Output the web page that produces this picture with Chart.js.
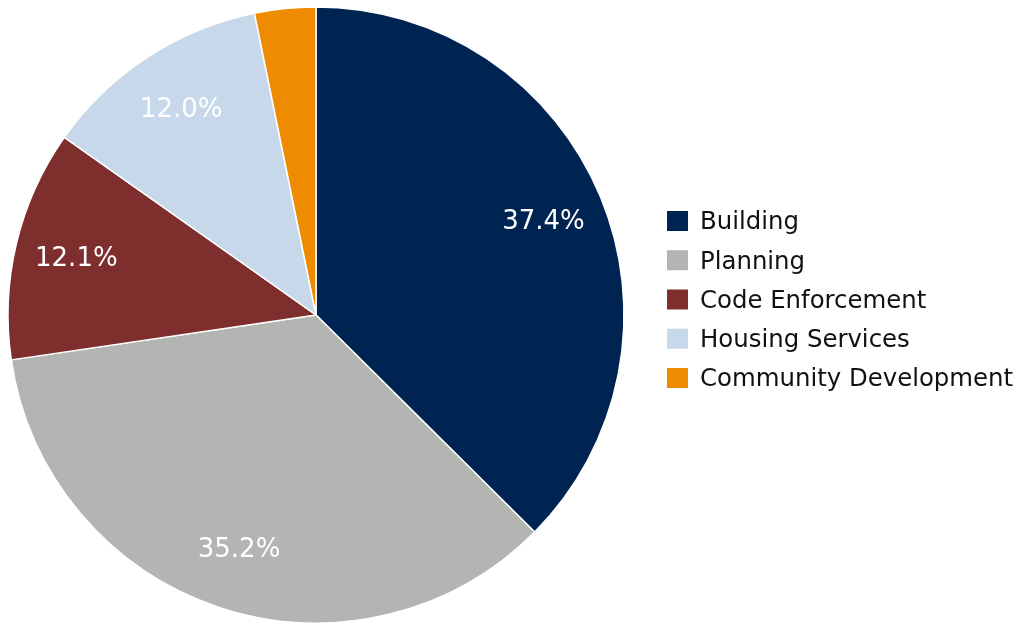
<!DOCTYPE html>
<html>
<head>
<meta charset="utf-8">
<script src="https://cdn.jsdelivr.net/npm/chart.js@4.4.1/dist/chart.umd.min.js"></script>
<style>
  html, body { margin: 0; padding: 0; background: #ffffff; }
  #wrap { width: 1023px; height: 623px; position: relative; }
</style>
</head>
<body>
<div id="wrap"><canvas id="c" width="1023" height="623"></canvas></div>
<script>
const categories = ["Building", "Planning", "Code Enforcement", "Housing Services", "Community Development"];
const shares = [37.4, 35.2, 12.1, 12.0, 3.2];
const sliceColors = ["#002452", "#b3b5b2", "#7e2e2d", "#c7d8ea", "#ee8b00"];

const FONT = '"DejaVu Sans", "Liberation Sans", sans-serif';

const pctLabels = {
  id: 'pctLabels',
  afterDatasetsDraw(chart) {
    const ctx = chart.ctx;
    const meta = chart.getDatasetMeta(0);
    const data = chart.data.datasets[0].data;
    const total = data.reduce((a, b) => a + b, 0);
    ctx.save();
    ctx.font = '26px ' + FONT;
    ctx.fillStyle = '#ffffff';
    ctx.textAlign = 'center';
    ctx.textBaseline = 'middle';
    meta.data.forEach((arc, i) => {
      const pct = data[i] / total * 100;
      if (pct < 5) return;
      const p = arc.getProps(['x', 'y', 'startAngle', 'endAngle', 'outerRadius'], true);
      const mid = (p.startAngle + p.endAngle) / 2;
      const r = p.outerRadius * 0.8;
      ctx.fillText(pct.toFixed(1) + '%', p.x + Math.cos(mid) * r, p.y + Math.sin(mid) * r + 1.5);
    });
    ctx.restore();
  }
};

const sideLegend = {
  id: 'sideLegend',
  afterDraw(chart) {
    const ctx = chart.ctx;
    const labels = chart.data.labels;
    const colors = chart.data.datasets[0].backgroundColor;
    ctx.save();
    ctx.font = '24.4px ' + FONT;
    ctx.textAlign = 'left';
    ctx.textBaseline = 'middle';
    labels.forEach((lab, i) => {
      const y = 211 + i * 39.25;
      ctx.fillStyle = colors[i];
      ctx.fillRect(667, y, 21, 20);
      ctx.fillStyle = '#111111';
      ctx.fillText(lab, 700, y + 12);
    });
    ctx.restore();
  }
};

new Chart(document.getElementById('c'), {
  type: 'pie',
  data: {
    labels: categories,
    datasets: [{
      data: shares,
      backgroundColor: sliceColors,
      borderColor: '#ffffff',
      borderWidth: 1.5
    }]
  },
  options: {
    responsive: false,
    animation: false,
    devicePixelRatio: 1,
    radius: 308,
    layout: { padding: { left: 0, right: 391, top: 7, bottom: 0 } },
    plugins: {
      legend: { display: false },
      tooltip: { enabled: false }
    }
  },
  plugins: [pctLabels, sideLegend]
});
</script>
</body>
</html>
